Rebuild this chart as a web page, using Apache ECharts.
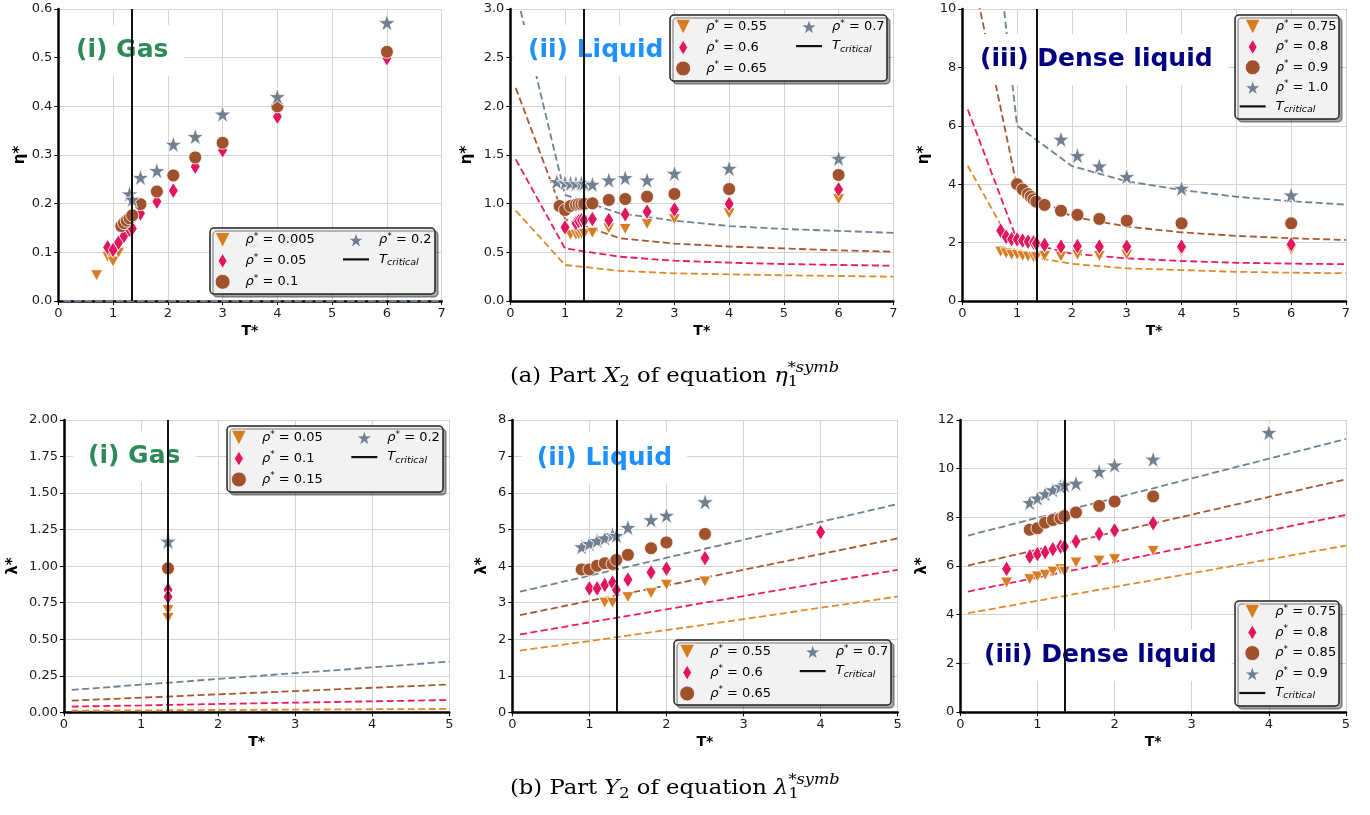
<!DOCTYPE html>
<html><head><meta charset="utf-8">
<script src="https://cdn.jsdelivr.net/npm/echarts@6/dist/echarts.min.js"></script>
<style>html,body{margin:0;padding:0;background:#fff}#c{width:1370px;height:815px}</style>
</head><body><div id="c"></div>
<script>
// ---------------- DATA ----------------
const T_CRITICAL = 1.35;
const etaModelT = [0.1, 1, 2, 3, 4, 5, 6, 7];
const lamModelT = [0.1, 1, 2, 3, 4, 5];

// (a)(i) Gas  eta*
const aGasRho = ['0.005', '0.05', '0.1', '0.2'];
const aGasTriT = [0.7, 0.9, 1.0, 1.1];
const aGasTriV = [0.053, 0.091, 0.081, 0.099];
const aGasDiaT = [0.9, 1.0, 1.1, 1.2, 1.3, 1.35, 1.5, 1.8, 2.1, 2.5, 3, 4, 6];
const aGasDiaV = [0.110, 0.105, 0.120, 0.134, 0.146, 0.149, 0.180, 0.204, 0.227, 0.276, 0.310, 0.379, 0.499];
const aGasCirT = [1.15, 1.2, 1.25, 1.3, 1.35, 1.5, 1.8, 2.1, 2.5, 3, 4, 6];
const aGasCirV = [0.154, 0.160, 0.165, 0.170, 0.176, 0.199, 0.225, 0.258, 0.295, 0.325, 0.400, 0.512];
const aGasStarT = [1.3, 1.35, 1.5, 1.8, 2.1, 2.5, 3, 4, 6];
const aGasStarV = [0.220, 0.209, 0.254, 0.268, 0.322, 0.338, 0.384, 0.420, 0.572];
const aGasModOrange = [0, 0, 0, 0, 0, 0, 0, 0];
const aGasModCrimson = [0, 0, 0, 0, 0, 0, 0, 0];
const aGasModSienna = [0, 0, 0, 0, 0, 0, 0, 0];
const aGasModGrey = [0, 0, 0, 0, 0, 0, 0, 0];

// (a)(ii) Liquid eta*
const aLiqRho = ['0.55', '0.6', '0.65', '0.7'];
const aLiqTriT = [1.1, 1.2, 1.25, 1.3, 1.35, 1.5, 1.8, 2.1, 2.5, 3, 4, 6];
const aLiqTriV = [0.68, 0.68, 0.685, 0.69, 0.69, 0.70, 0.746, 0.74, 0.79, 0.84, 0.90, 1.045];
const aLiqDiaT = [1.0, 1.2, 1.25, 1.3, 1.35, 1.5, 1.8, 2.1, 2.5, 3, 4, 6];
const aLiqDiaV = [0.757, 0.80, 0.82, 0.83, 0.83, 0.842, 0.83, 0.89, 0.918, 0.94, 0.997, 1.147];
const aLiqCirT = [0.9, 1.0, 1.1, 1.2, 1.25, 1.3, 1.35, 1.5, 1.8, 2.1, 2.5, 3, 4, 6];
const aLiqCirV = [0.976, 0.935, 0.976, 0.99, 0.995, 0.995, 0.997, 1.003, 1.038, 1.048, 1.072, 1.10, 1.15, 1.295];
const aLiqStarT = [0.85, 1.0, 1.1, 1.2, 1.3, 1.35, 1.5, 1.8, 2.1, 2.5, 3, 4, 6];
const aLiqStarV = [1.226, 1.216, 1.209, 1.21, 1.21, 1.21, 1.199, 1.243, 1.267, 1.243, 1.312, 1.363, 1.466];
const aLiqModOrange = [0.928, 0.37, 0.31, 0.284, 0.274, 0.264, 0.257, 0.25];
const aLiqModCrimson = [1.455, 0.54, 0.455, 0.414, 0.394, 0.38, 0.37, 0.363];
const aLiqModSienna = [2.19, 0.84, 0.645, 0.59, 0.56, 0.54, 0.52, 0.507];
const aLiqModGrey = [3.19, 1.09, 0.90, 0.825, 0.77, 0.74, 0.72, 0.70];

// (a)(iii) Dense liquid eta*
const aDenRho = ['0.75', '0.8', '0.9', '1.0'];
const aDenTriT = [0.7, 0.8, 0.9, 1.0, 1.1, 1.2, 1.3, 1.35, 1.5, 1.8, 2.1, 2.5, 3, 4, 6];
const aDenTriV = [1.69, 1.63, 1.58, 1.58, 1.54, 1.52, 1.50, 1.50, 1.54, 1.52, 1.58, 1.54, 1.58, 1.69, 1.75];
const aDenDiaT = [0.7, 0.8, 0.9, 1.0, 1.1, 1.2, 1.3, 1.35, 1.5, 1.8, 2.1, 2.5, 3, 4, 6];
const aDenDiaV = [2.41, 2.20, 2.12, 2.11, 2.07, 2.03, 2.01, 1.97, 1.92, 1.86, 1.88, 1.86, 1.86, 1.86, 1.94];
const aDenCirT = [1.0, 1.1, 1.2, 1.25, 1.3, 1.35, 1.5, 1.8, 2.1, 2.5, 3, 4, 6];
const aDenCirV = [4.0, 3.82, 3.66, 3.57, 3.48, 3.40, 3.29, 3.09, 2.95, 2.81, 2.75, 2.66, 2.66];
const aDenStarT = [1.8, 2.1, 2.5, 3, 4, 6];
const aDenStarV = [5.54, 4.98, 4.62, 4.26, 3.86, 3.63];
const aDenModOrange = [4.63, 1.6, 1.27, 1.12, 1.06, 1.0, 0.97, 0.95];
const aDenModCrimson = [6.56, 2.07, 1.62, 1.46, 1.37, 1.31, 1.28, 1.26];
const aDenModSienna = [12.0, 3.9, 2.89, 2.55, 2.35, 2.23, 2.15, 2.09];
const aDenModGrey = [21.0, 6.0, 4.62, 4.1, 3.8, 3.57, 3.42, 3.3];

// (b)(i) Gas lambda*
const bGasRho = ['0.05', '0.1', '0.15', '0.2'];
const bGasTriT = [1.35, 1.35];
const bGasTriV = [0.70, 0.645];
const bGasDiaT = [1.35, 1.35];
const bGasDiaV = [0.837, 0.79];
const bGasCirT = [1.35];
const bGasCirV = [0.985];
const bGasStarT = [1.35, 1.35];
const bGasStarV = [1.175, 1.17];
const bGasModOrange = [0.011, 0.013, 0.016, 0.018, 0.021, 0.023];
const bGasModCrimson = [0.039, 0.047, 0.057, 0.066, 0.075, 0.084];
const bGasModSienna = [0.080, 0.100, 0.123, 0.145, 0.168, 0.190];
const bGasModGrey = [0.153, 0.189, 0.228, 0.268, 0.307, 0.347];

// (b)(ii) Liquid lambda*
const bLiqRho = ['0.55', '0.6', '0.65', '0.7'];
const bLiqTriT = [1.2, 1.3, 1.5, 1.8, 2.0, 2.5];
const bLiqTriV = [3.0, 3.0, 3.15, 3.26, 3.49, 3.58];
const bLiqDiaT = [1.0, 1.1, 1.2, 1.3, 1.35, 1.5, 1.8, 2.0, 2.5, 4.0];
const bLiqDiaV = [3.39, 3.39, 3.49, 3.55, 3.35, 3.63, 3.83, 3.93, 4.22, 4.93];
const bLiqCirT = [0.9, 1.0, 1.1, 1.2, 1.3, 1.35, 1.5, 1.8, 2.0, 2.5];
const bLiqCirV = [3.91, 3.91, 4.01, 4.08, 4.06, 4.17, 4.31, 4.49, 4.65, 4.88];
const bLiqStarT = [0.9, 1.0, 1.1, 1.2, 1.3, 1.35, 1.5, 1.8, 2.0, 2.5];
const bLiqStarV = [4.53, 4.62, 4.70, 4.77, 4.86, 4.84, 5.06, 5.27, 5.39, 5.76];
const bLiqModOrange = [1.69, 1.95, 2.25, 2.55, 2.86, 3.17];
const bLiqModCrimson = [2.13, 2.46, 2.82, 3.18, 3.54, 3.90];
const bLiqModSienna = [2.66, 3.05, 3.47, 3.90, 4.33, 4.76];
const bLiqModGrey = [3.30, 3.74, 4.23, 4.72, 5.21, 5.70];

// (b)(iii) Dense liquid lambda*
const bDenRho = ['0.75', '0.8', '0.85', '0.9'];
const bDenTriT = [0.6, 0.9, 1.0, 1.1, 1.2, 1.3, 1.35, 1.5, 1.8, 2.0, 2.5];
const bDenTriV = [5.32, 5.46, 5.57, 5.64, 5.77, 5.87, 5.77, 6.14, 6.22, 6.28, 6.62];
const bDenDiaT = [0.6, 0.9, 1.0, 1.1, 1.2, 1.3, 1.35, 1.5, 1.8, 2.0, 2.5];
const bDenDiaV = [5.88, 6.39, 6.49, 6.57, 6.69, 6.80, 6.80, 7.01, 7.32, 7.46, 7.76];
const bDenCirT = [0.9, 1.0, 1.1, 1.2, 1.3, 1.35, 1.5, 1.8, 2.0, 2.5];
const bDenCirV = [7.49, 7.55, 7.78, 7.89, 7.96, 8.05, 8.20, 8.47, 8.65, 8.86];
const bDenStarT = [0.9, 1.0, 1.1, 1.2, 1.3, 1.35, 1.5, 1.8, 2.0, 2.5, 4.0];
const bDenStarV = [8.61, 8.79, 8.97, 9.13, 9.27, 9.34, 9.40, 9.88, 10.15, 10.39, 11.49];
const bDenModOrange = [4.06, 4.57, 5.14, 5.70, 6.27, 6.84];
const bDenModCrimson = [4.95, 5.53, 6.17, 6.82, 7.46, 8.10];
const bDenModSienna = [6.02, 6.67, 7.39, 8.11, 8.84, 9.56];
const bDenModGrey = [7.25, 7.98, 8.79, 9.60, 10.41, 11.22];

// axis ranges  [min, max, interval, decimals]
const etaTAxis = [0, 7, 1];
const lamTAxis = [0, 5, 1];
const yAxes = [[0, 0.6, 0.1, 1], [0, 3.0, 0.5, 1], [0, 10, 2, 0], [0, 2.0, 0.25, 2], [0, 8, 1, 0], [0, 12, 2, 0]];
const panelTitles = ['(i) Gas', '(ii) Liquid', '(iii) Dense liquid', '(i) Gas', '(ii) Liquid', '(iii) Dense liquid'];

// ---------------- STYLE ----------------
const FONT = 'DejaVu Sans';
const C_TRI = '#d67d24', C_DIA = '#e2165e', C_CIR = '#a0522d', C_STAR = '#708090';
const L_ORANGE = '#e08a2b', L_CRIMSON = '#ec1a62', L_SIENNA = '#a6582f', L_GREY = '#708090';
const titleColors = ['#2e8b57', '#1e90ff', '#000080', '#2e8b57', '#1e90ff', '#000080'];

let starPath = 'path://';
for (let i = 0; i < 10; i++) {
  const a = -Math.PI / 2 + i * Math.PI / 5, r = i % 2 ? 0.382 : 1;
  starPath += (i ? 'L' : 'M') + (r * Math.cos(a)).toFixed(4) + ',' + (r * Math.sin(a)).toFixed(4);
}
starPath += 'Z';
const TRI = 'path://M-1,-1L1,-1L0,1Z';
const DIA = 'path://M0,-1L0.6,0L0,1L-0.6,0Z';
const CIR = 'circle';
const LINE_ICON = 'path://M0,0H26V2.2H0Z';

const grids = [
  { left: 58.3, top: 9, width: 383.4, height: 292 },
  { left: 510.3, top: 9, width: 383, height: 292 },
  { left: 962.3, top: 9, width: 383.7, height: 292 },
  { left: 64, top: 420, width: 385.3, height: 292.3 },
  { left: 512.3, top: 420, width: 385.4, height: 292.3 },
  { left: 960.3, top: 420, width: 385.7, height: 292 }
];
const yNameGaps = [31, 36, 31, 43, 23, 31];

const panels = [
  { key: 'a1', rho: aGasRho, mt: etaModelT, tri: [aGasTriT, aGasTriV], dia: [aGasDiaT, aGasDiaV], cir: [aGasCirT, aGasCirV], star: [aGasStarT, aGasStarV], mod: [aGasModOrange, aGasModCrimson, aGasModSienna, aGasModGrey] },
  { key: 'a2', rho: aLiqRho, mt: etaModelT, tri: [aLiqTriT, aLiqTriV], dia: [aLiqDiaT, aLiqDiaV], cir: [aLiqCirT, aLiqCirV], star: [aLiqStarT, aLiqStarV], mod: [aLiqModOrange, aLiqModCrimson, aLiqModSienna, aLiqModGrey] },
  { key: 'a3', rho: aDenRho, mt: etaModelT, tri: [aDenTriT, aDenTriV], dia: [aDenDiaT, aDenDiaV], cir: [aDenCirT, aDenCirV], star: [aDenStarT, aDenStarV], mod: [aDenModOrange, aDenModCrimson, aDenModSienna, aDenModGrey] },
  { key: 'b1', rho: bGasRho, mt: lamModelT, tri: [bGasTriT, bGasTriV], dia: [bGasDiaT, bGasDiaV], cir: [bGasCirT, bGasCirV], star: [bGasStarT, bGasStarV], mod: [bGasModOrange, bGasModCrimson, bGasModSienna, bGasModGrey] },
  { key: 'b2', rho: bLiqRho, mt: lamModelT, tri: [bLiqTriT, bLiqTriV], dia: [bLiqDiaT, bLiqDiaV], cir: [bLiqCirT, bLiqCirV], star: [bLiqStarT, bLiqStarV], mod: [bLiqModOrange, bLiqModCrimson, bLiqModSienna, bLiqModGrey] },
  { key: 'b3', rho: bDenRho, mt: lamModelT, tri: [bDenTriT, bDenTriV], dia: [bDenDiaT, bDenDiaV], cir: [bDenCirT, bDenCirV], star: [bDenStarT, bDenStarV], mod: [bDenModOrange, bDenModCrimson, bDenModSienna, bDenModGrey] }
];

const zip = (a, b) => a.map((x, i) => [x, b[i]]);

const series = [];
const xAxis = [], yAxis = [];
panels.forEach((p, k) => {
  const xa = k < 3 ? etaTAxis : lamTAxis;
  const ya = yAxes[k];
  xAxis.push({
    type: 'value', gridIndex: k, min: xa[0], max: xa[1], interval: xa[2],
    name: 'T*', nameLocation: 'middle', nameGap: 23,
    nameTextStyle: { fontFamily: FONT, fontWeight: 'bold', fontSize: 14, color: '#000' },
    axisLine: { show: true, onZero: false, lineStyle: { color: '#000', width: 2.5 } },
    axisTick: { show: true, length: 4, lineStyle: { color: '#000', width: 1 } },
    axisLabel: { fontFamily: FONT, fontSize: 13, color: '#1a1a1a', margin: 6 },
    splitLine: { show: true, lineStyle: { color: '#d3d3d3', width: 1 } }
  });
  yAxis.push({
    type: 'value', gridIndex: k, min: ya[0], max: ya[1], interval: ya[2],
    name: k < 3 ? 'η*' : 'λ*', nameLocation: 'middle', nameGap: yNameGaps[k], nameRotate: 90,
    nameTextStyle: { fontFamily: FONT, fontWeight: 'bold', fontSize: 15, color: '#000' },
    axisLine: { show: true, onZero: false, lineStyle: { color: '#000', width: 2.5 } },
    axisTick: { show: true, length: 4, lineStyle: { color: '#000', width: 1 } },
    axisLabel: { fontFamily: FONT, fontSize: 13, color: '#1a1a1a', margin: 6, formatter: v => v.toFixed(ya[3]) },
    splitLine: { show: true, lineStyle: { color: '#d3d3d3', width: 1 } }
  });
  const lc = [L_ORANGE, L_CRIMSON, L_SIENNA, L_GREY];
  p.mod.forEach((vals, j) => {
    series.push({
      type: 'line', name: p.key + '|model' + j, xAxisIndex: k, yAxisIndex: k,
      data: zip(p.mt, vals), symbol: 'none', silent: true, z: 2,
      lineStyle: { color: lc[j], width: 1.8, type: [7, 3.5] }
    });
  });
  const mk = (arr, name, sym, size, color) => ({
    type: 'scatter', name: p.key + '|' + name, xAxisIndex: k, yAxisIndex: k,
    data: zip(arr[0], arr[1]), symbol: sym, symbolSize: size, z: 3,
    itemStyle: { color, borderColor: '#fff', borderWidth: 0.8, opacity: 1 }
  });
  series.push(mk(p.tri, p.rho[0], TRI, [12, 11], C_TRI));
  series.push(mk(p.dia, p.rho[1], DIA, [10, 16], C_DIA));
  series.push(mk(p.cir, p.rho[2], CIR, 13, C_CIR));
  series.push(mk(p.star, p.rho[3], starPath, 17, C_STAR));
  series.push({
    type: 'line', name: p.key + '|T', xAxisIndex: k, yAxisIndex: k, data: [],
    symbol: 'none', lineStyle: { color: '#111', width: 2 }, itemStyle: { color: '#111' },
    markLine: { symbol: 'none', silent: true, z: 5, label: { show: false },
      lineStyle: { color: '#111', width: 2, type: 'solid' }, data: [{ xAxis: T_CRITICAL }] }
  });
});

// ---------------- LEGENDS ----------------
const legRich = {
  g: { width: 5 },
  it: { fontFamily: FONT, fontStyle: 'italic', fontSize: 13, lineHeight: 16, color: '#000' },
  n: { fontFamily: FONT, fontSize: 13, lineHeight: 16, color: '#000' },
  sup: { fontFamily: FONT, fontSize: 9, lineHeight: 9, verticalAlign: 'top', color: '#000' },
  sub: { fontFamily: FONT, fontStyle: 'italic', fontSize: 9.5, lineHeight: 10, verticalAlign: 'bottom', color: '#000' }
};
const legFmt = name => {
  const v = name.split('|')[1];
  if (v === 'T') return '{g|}{it|T}{sub|critical}';
  return '{g|}{it|ρ}{sup|*}{n| = ' + v + '}';
};
const iconOf = [[TRI, C_TRI], [DIA, C_DIA], [CIR, C_CIR], [starPath, C_STAR]];
const item = (p, i) => ({ name: p.key + '|' + p.rho[i], icon: iconOf[i][0],
  itemStyle: { color: iconOf[i][1], borderColor: '#fff', borderWidth: 0.8 } });
const tItem = p => ({ name: p.key + '|T', icon: LINE_ICON, itemStyle: { color: '#111', borderWidth: 0 } });
const legend = [];
const mkLeg = (data, left, top, gap) => legend.push({
  show: true, orient: 'vertical', left, top, itemGap: gap, itemWidth: 26, itemHeight: 15,
  padding: 0, selectedMode: false, data, formatter: legFmt, z: 6,
  textStyle: { fontFamily: FONT, fontSize: 13, color: '#000', rich: legRich }
});
const P = panels;
mkLeg([item(P[0], 0), item(P[0], 1), item(P[0], 2)], 214.7, 232, 5);
mkLeg([item(P[0], 3), tItem(P[0])], 343, 232, 5);
mkLeg([item(P[1], 0), item(P[1], 1), item(P[1], 2)], 675.3, 18.7, 5);
mkLeg([item(P[1], 3), tItem(P[1])], 796, 18.7, 5);
mkLeg([item(P[2], 0), item(P[2], 1), item(P[2], 2), item(P[2], 3), tItem(P[2])], 1239.7, 18.7, 4.4);
mkLeg([item(P[3], 0), item(P[3], 1), item(P[3], 2)], 231, 429.7, 5);
mkLeg([item(P[3], 3), tItem(P[3])], 351.3, 429.7, 5);
mkLeg([item(P[4], 0), item(P[4], 1), item(P[4], 2)], 679.3, 643.7, 5);
mkLeg([item(P[4], 3), tItem(P[4])], 799.7, 643.7, 5);
mkLeg([item(P[5], 0), item(P[5], 1), item(P[5], 2), item(P[5], 3), tItem(P[5])], 1239.3, 603.7, 4.8);

const legBoxes = [[210, 228, 225, 66], [670, 15, 217, 66], [1235, 15, 104, 104], [227, 426, 216, 66], [674, 640, 217, 65], [1235, 601, 104, 105]];

// ---------------- TITLES ----------------
const titlePos = [[61, 25], [513, 25], [965, 34], [73, 430.7], [521.7, 432.7], [969, 630]];
const title = panelTitles.map((t, i) => ({
  text: t, left: titlePos[i][0], top: titlePos[i][1], padding: [13, 15, 13, 15],
  backgroundColor: '#fff', z: 4,
  textStyle: { fontFamily: FONT, fontWeight: 'bold', fontSize: 25, color: titleColors[i] }
}));

// ---------------- CAPTIONS ----------------
const capFont = 'DejaVu Serif';
const CAP = 21, CAP_S = 15, CAP_SCALE = 1.08;
const meas = (() => { const c = document.createElement('canvas').getContext('2d'); return (txt, font) => { c.font = font; return c.measureText(txt).width; }; })();
function caption(x, y, pre, V, vsub, sym) {
  const main = '{n|' + pre + '}{i|' + V + '}{s|' + vsub + '}{n| of equation }{i|' + sym + '}{s|1}';
  const f = CAP + 'px "' + capFont + '"', fi = 'italic ' + f, fs = CAP_S + 'px "' + capFont + '"';
  const w = meas(pre, f) + meas(V, fi) + meas(vsub, fs) + meas(' of equation ', f) + meas(sym, fi);
  return { type: 'group', x, y, scaleX: CAP_SCALE, z: 10, children: [
    { type: 'text', x: 0, y: 0, z: 10, style: { text: main, textVerticalAlign: 'middle', rich: {
      n: { fontFamily: capFont, fontSize: CAP, lineHeight: 26, fill: '#000' },
      i: { fontFamily: capFont, fontStyle: 'italic', fontSize: CAP, lineHeight: 26, fill: '#000' },
      s: { fontFamily: capFont, fontSize: CAP_S, lineHeight: 12, verticalAlign: 'bottom', fill: '#000' } } } },
    { type: 'text', x: w, y: -9, z: 10, style: { text: '*symb', fontFamily: capFont, fontStyle: 'italic', fontSize: CAP_S, fill: '#000', textVerticalAlign: 'middle' } }
  ] };
}

const graphic = legBoxes.map(b => ({
  type: 'rect', z: 5, silent: true,
  shape: { x: b[0], y: b[1], width: b[2], height: b[3], r: 4 },
  style: { fill: '#f2f2f2', stroke: '#222', lineWidth: 1.5, shadowColor: 'rgba(0,0,0,0.35)', shadowOffsetX: 3, shadowOffsetY: 3, shadowBlur: 0 }
})).concat([caption(510, 377, '(a) Part ', 'X', '2', 'η'), caption(510, 789, '(b) Part ', 'Y', '2', 'λ')]);

const chart = echarts.init(document.getElementById('c'), null, { renderer: 'canvas' });
chart.setOption({
  animation: false,
  backgroundColor: '#fff',
  textStyle: { fontFamily: FONT },
  title, legend, graphic,
  grid: grids.map(g => Object.assign({ containLabel: false }, g)),
  xAxis, yAxis, series
});
</script></body></html>
